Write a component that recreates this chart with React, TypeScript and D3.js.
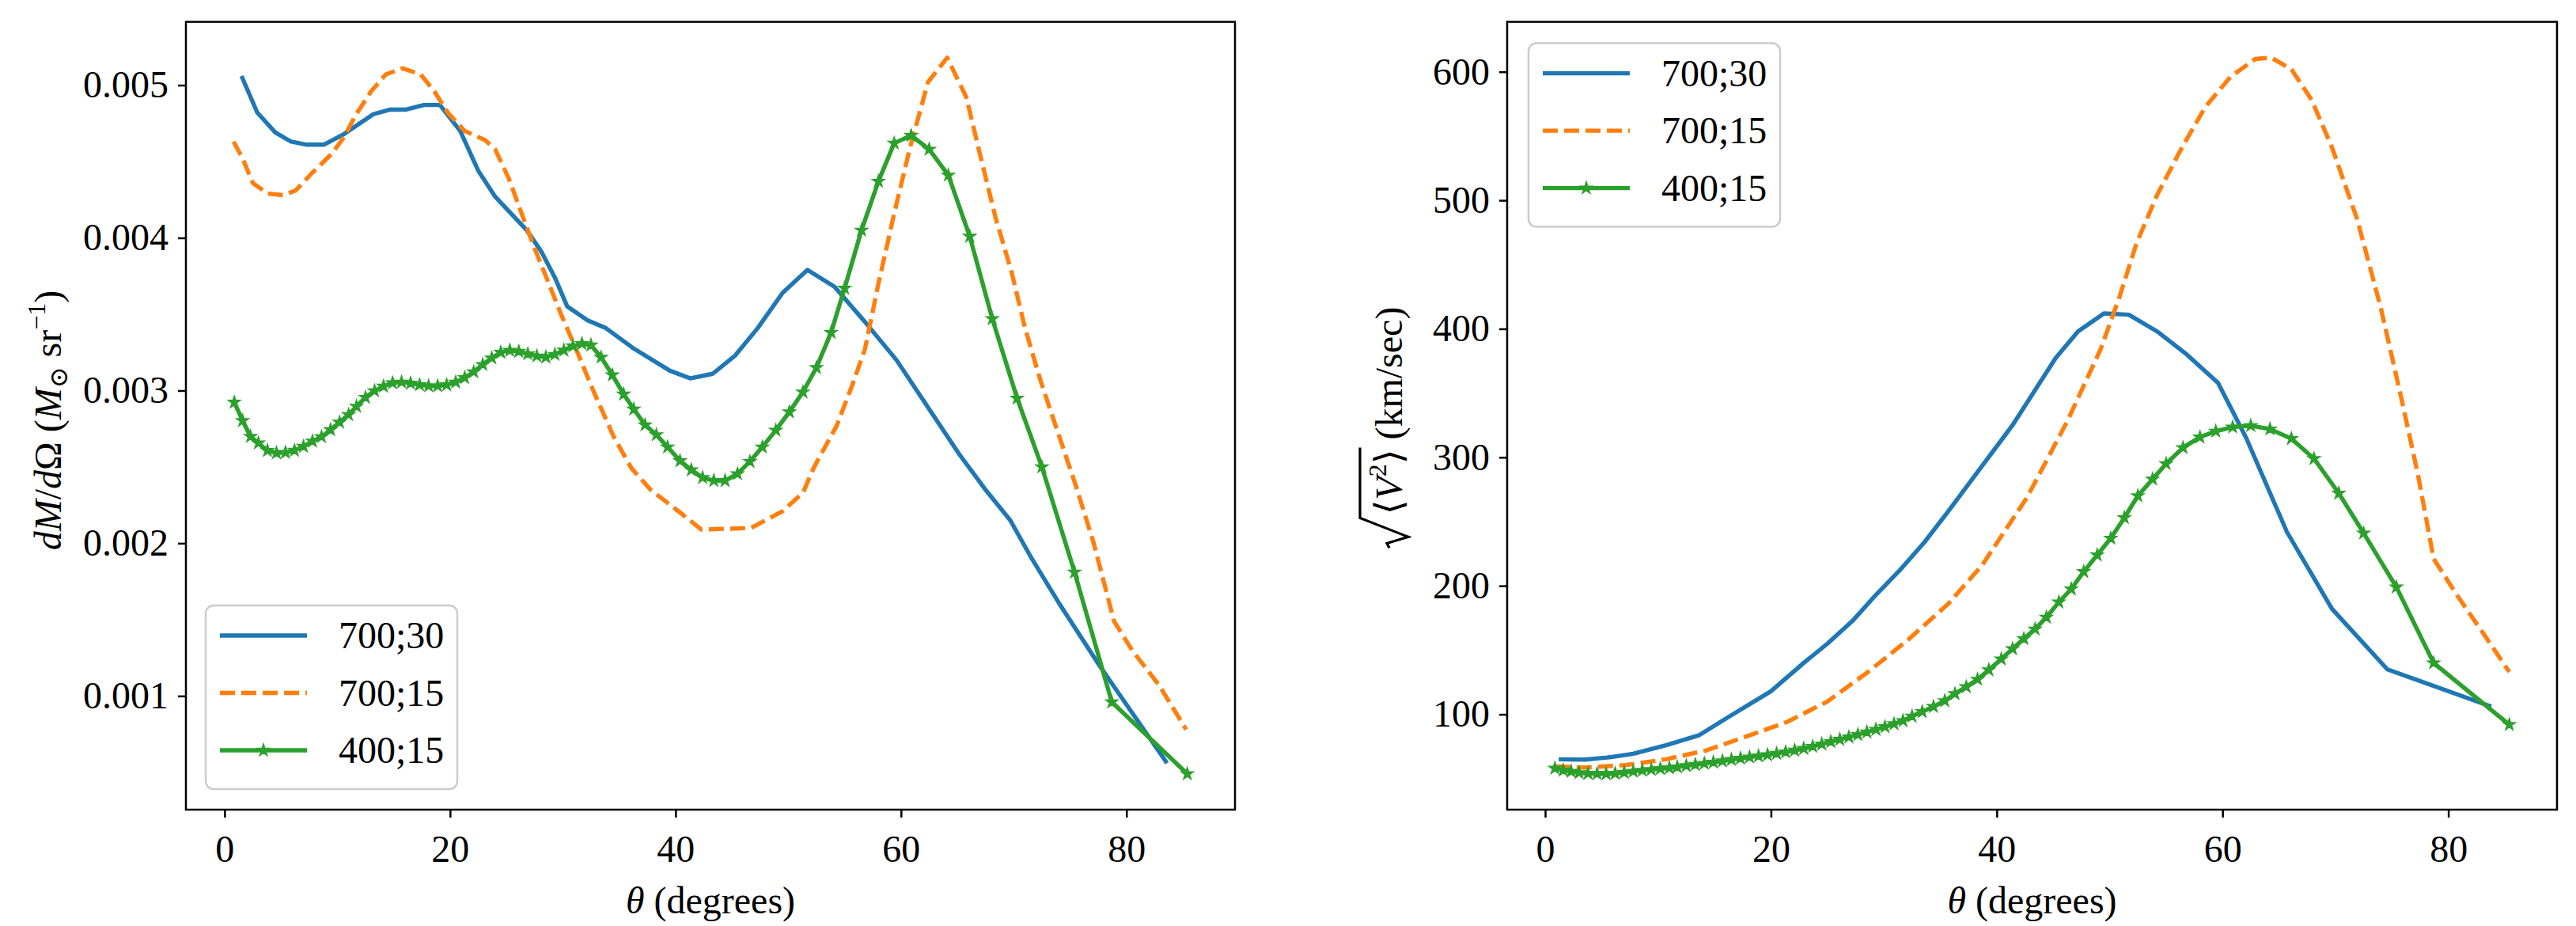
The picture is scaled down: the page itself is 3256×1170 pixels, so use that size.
import React, { useEffect, useRef } from 'react';
import * as d3 from 'd3';

const W = 3256;
const H = 1170;

const seriesLabels = ['700;30', '700;15', '400;15'];
const seriesColors = ['#1f77b4', '#ff7f0e', '#2ca02c'];

const xTicks = [0, 20, 40, 60, 80];
const massTicks = [0.001, 0.002, 0.003, 0.004, 0.005];
const velTicks = [100, 200, 300, 400, 500, 600];

// 700;30, dM/dOmega
const blueMassTheta = [1.5, 2.9, 4.5, 5.9, 7.3, 8.8, 10.6, 13.2, 14.7, 16.1, 17.7, 19.1, 20.9, 22.5, 24.0, 25.4, 26.8, 28.1, 29.3, 30.4, 32.2, 33.8, 36.2, 39.5, 41.3, 43.3, 45.3, 47.3, 49.5, 51.7, 54.1, 56.8, 59.6, 62.4, 65.2, 67.4, 69.7, 71.6, 74.0, 77.6, 80.5, 83.6];
const blueMass = [0.00506, 0.00482, 0.00469, 0.00463, 0.00461, 0.00461, 0.00468, 0.00481, 0.00484, 0.00484, 0.00487, 0.00487, 0.0047, 0.00444, 0.00427, 0.00416, 0.00405, 0.00391, 0.00374, 0.00355, 0.00346, 0.00341, 0.00328, 0.00313, 0.00308, 0.00311, 0.00323, 0.00341, 0.00364, 0.00379, 0.00368, 0.00345, 0.0032, 0.00289, 0.00258, 0.00236, 0.00215, 0.0019, 0.00161, 0.0012, 0.00089, 0.00056];

// 700;15, dM/dOmega
const orangeMassTheta = [0.8, 1.6, 2.5, 3.8, 5.2, 6.3, 7.7, 9.5, 10.6, 11.6, 13.0, 14.3, 15.8, 17.4, 18.6, 19.8, 21.3, 23.1, 24.0, 25.2, 26.3, 27.4, 28.6, 29.9, 31.3, 32.7, 34.5, 36.1, 37.8, 40.6, 42.3, 46.7, 49.5, 51.3, 52.3, 54.3, 55.7, 56.8, 58.0, 59.4, 60.8, 62.4, 64.1, 65.8, 67.0, 68.4, 69.8, 71.0, 72.4, 73.9, 75.5, 77.1, 78.9, 80.5, 82.9, 85.3];
const orangeMass = [0.00463, 0.00452, 0.00436, 0.00429, 0.00428, 0.00431, 0.00442, 0.00455, 0.00466, 0.0048, 0.00496, 0.00507, 0.00511, 0.00507, 0.00496, 0.00482, 0.0047, 0.00464, 0.00458, 0.00439, 0.00417, 0.00395, 0.00373, 0.00349, 0.00325, 0.003, 0.0027, 0.00249, 0.00235, 0.00219, 0.00209, 0.0021, 0.00221, 0.00233, 0.0025, 0.00277, 0.00304, 0.00327, 0.0037, 0.00416, 0.00459, 0.00502, 0.00518, 0.00492, 0.00455, 0.00413, 0.00378, 0.00341, 0.00306, 0.00273, 0.00238, 0.002, 0.00149, 0.0013, 0.00107, 0.00078];

// 400;15, shared angles for both panels (marker positions)
const greenTheta = [0.86, 1.6, 2.3, 3.0, 3.8, 4.6, 5.4, 6.2, 7.0, 7.8, 8.6, 9.4, 10.2, 11.0, 11.7, 12.5, 13.3, 14.1, 14.9, 15.7, 16.5, 17.3, 18.1, 18.9, 19.7, 20.5, 21.3, 22.1, 22.9, 23.7, 24.5, 25.3, 26.1, 26.9, 27.7, 28.5, 29.3, 30.1, 30.9, 31.7, 32.5, 33.4, 34.4, 35.4, 36.3, 37.3, 38.3, 39.3, 40.4, 41.4, 42.4, 43.4, 44.4, 45.5, 46.6, 47.7, 48.9, 50.1, 51.3, 52.5, 53.8, 55.0, 56.5, 58.0, 59.4, 60.9, 62.5, 64.2, 66.1, 68.1, 70.3, 72.5, 75.4, 78.7, 85.4];
const greenMass = [0.002923, 0.002803, 0.002699, 0.002656, 0.002607, 0.002592, 0.002594, 0.002608, 0.002634, 0.002668, 0.002697, 0.002743, 0.002792, 0.002842, 0.002896, 0.002955, 0.002998, 0.003028, 0.00305, 0.003055, 0.003048, 0.003037, 0.00303, 0.00303, 0.003037, 0.003055, 0.003084, 0.003122, 0.00317, 0.003213, 0.00325, 0.003263, 0.003256, 0.00324, 0.003226, 0.003219, 0.003236, 0.003264, 0.003291, 0.003307, 0.003298, 0.003218, 0.003102, 0.002976, 0.002878, 0.002775, 0.00271, 0.00263, 0.00254, 0.00248, 0.00243, 0.00241, 0.00241, 0.002455, 0.002535, 0.00263, 0.00274, 0.00286, 0.00299, 0.00315, 0.00338, 0.00367, 0.00405, 0.00437, 0.00462, 0.00467, 0.00458, 0.00441, 0.00401, 0.00347, 0.00295, 0.0025, 0.00181, 0.00096, 0.00049];
const greenVel = [58, 56.5, 55.5, 54.5, 54, 53.8, 53.7, 54, 54.8, 55.6, 56.4, 57, 57.7, 58.3, 59, 60, 60.9, 61.8, 62.7, 63.7, 64.8, 65.8, 66.7, 67.6, 68.5, 69.5, 70.7, 72, 73.4, 75, 76.8, 78.7, 80.5, 82.3, 84.2, 86.2, 88.2, 90.3, 92.6, 95, 98.5, 102, 106, 110.5, 116, 121.4, 127.2, 134.5, 143, 151, 158.8, 166.3, 175.5, 187.3, 197.5, 211, 224, 237, 253, 270, 283, 295, 307.5, 315.7, 320.3, 323.5, 324.6, 322, 314.5, 299, 272, 241, 199, 140, 92];

// 700;30, velocity
const blueVelTheta = [1.2, 3.5, 5.7, 7.8, 10.7, 13.6, 16.4, 20.0, 22.9, 25.0, 27.2, 29.3, 31.4, 33.6, 35.7, 38.0, 41.4, 45.2, 47.2, 49.5, 51.7, 54.2, 56.7, 59.6, 62.1, 65.7, 69.7, 74.6, 83.8];
const blueVel = [65, 64.8, 66.6, 69.3, 75.9, 83.6, 98.8, 118, 140, 155, 172.5, 193, 212, 234, 258, 285, 325, 377, 398, 412, 411, 398, 381, 358, 315, 242, 182, 135, 106];

// 700;15, velocity
const orangeVelTheta = [0.9, 3.5, 7.1, 10.7, 14.3, 17.8, 21.4, 25.0, 28.6, 32.1, 35.7, 38.7, 42.7, 46.3, 49.2, 50.9, 52.4, 54.2, 56.4, 58.5, 60.7, 62.9, 64.3, 66.1, 67.9, 69.7, 71.9, 74.0, 75.8, 77.3, 78.7, 80.9, 83.1, 85.4];
const orangeVel = [59.6, 58.6, 60.5, 65, 72, 82.7, 94, 110, 133, 157.7, 186, 216, 269, 329, 384, 425.6, 467, 504, 541, 573, 596, 610, 611, 602, 578, 541, 486, 417, 347.5, 287, 221, 191, 163, 133];

const FONT = "'Liberation Serif', 'DejaVu Serif', serif";
const FS = 48;
const STAR = 72;

interface Series {
  theta: number[];
  values: number[];
  color: string;
  label: string;
  dashed?: boolean;
  stars?: boolean;
}

interface Frame {
  x0: number;
  x1: number;
  y0: number;
  y1: number;
}

const padded = (vals: number[]): [number, number] => {
  const [lo, hi] = d3.extent(vals) as [number, number];
  const m = (hi - lo) * 0.05;
  return [lo - m, hi + m];
};

const starPath = (size: number) => d3.symbol(d3.symbolStar, size)()!;

function drawPanel(
  svg: d3.Selection<SVGSVGElement, unknown, null, undefined>,
  frame: Frame,
  series: Series[],
  yTicks: number[],
  yFmt: (v: number) => string,
  legendAt: [number, number]
) {
  const x = d3
    .scaleLinear()
    .domain(padded(series.flatMap((s) => s.theta)))
    .range([frame.x0, frame.x1]);
  const y = d3
    .scaleLinear()
    .domain(padded(series.flatMap((s) => s.values)))
    .range([frame.y1, frame.y0]);

  const g = svg.append('g');

  // Axes
  const xa = g
    .append('g')
    .attr('transform', `translate(0,${frame.y1})`)
    .call(d3.axisBottom(x).tickValues(xTicks).tickSize(10).tickPadding(22).tickFormat((d) => String(d)));
  const ya = g
    .append('g')
    .attr('transform', `translate(${frame.x0},0)`)
    .call(d3.axisLeft(y).tickValues(yTicks).tickSize(10).tickPadding(12).tickFormat((d) => yFmt(d as number)));
  [xa, ya].forEach((a) => {
    a.select('.domain').remove();
    a.selectAll('line').attr('stroke', '#000').attr('stroke-width', 2.5);
    a.selectAll('text').attr('font-family', FONT).attr('font-size', FS).attr('fill', '#000');
  });

  // Lines
  series.forEach((s) => {
    const idx = d3.range(s.theta.length);
    const line = d3
      .line<number>()
      .x((i) => x(s.theta[i]))
      .y((i) => y(s.values[i]));
    g.append('path')
      .attr('d', line(idx))
      .attr('fill', 'none')
      .attr('stroke', s.color)
      .attr('stroke-width', 5.4)
      .attr('stroke-linejoin', 'round')
      .attr('stroke-dasharray', s.dashed ? '19,8' : null);
    if (s.stars) {
      g.selectAll(null)
        .data(idx)
        .enter()
        .append('path')
        .attr('d', starPath(STAR))
        .attr('transform', (i) => `translate(${x(s.theta[i])},${y(s.values[i])})`)
        .attr('fill', s.color)
        .attr('stroke', s.color)
        .attr('stroke-width', 1.5);
    }
  });

  // Frame
  g.append('rect')
    .attr('x', frame.x0)
    .attr('y', frame.y0)
    .attr('width', frame.x1 - frame.x0)
    .attr('height', frame.y1 - frame.y0)
    .attr('fill', 'none')
    .attr('stroke', '#000')
    .attr('stroke-width', 2.5);

  // Legend
  const lg = g.append('g').attr('transform', `translate(${legendAt[0]},${legendAt[1]})`);
  lg.append('rect')
    .attr('width', 318)
    .attr('height', 232)
    .attr('rx', 10)
    .attr('fill', '#fff')
    .attr('fill-opacity', 0.8)
    .attr('stroke', '#cccccc')
    .attr('stroke-width', 2.5);
  series.forEach((s, i) => {
    const cy = 38 + i * 72.5;
    lg.append('line')
      .attr('x1', 18)
      .attr('x2', 128)
      .attr('y1', cy)
      .attr('y2', cy)
      .attr('stroke', s.color)
      .attr('stroke-width', 5.4)
      .attr('stroke-dasharray', s.dashed ? '19,8' : null);
    if (s.stars) {
      lg.append('path')
        .attr('d', starPath(STAR))
        .attr('transform', `translate(73,${cy})`)
        .attr('fill', s.color)
        .attr('stroke', s.color)
        .attr('stroke-width', 1.5);
    }
    lg.append('text')
      .attr('x', 168)
      .attr('y', cy + 16)
      .attr('font-family', FONT)
      .attr('font-size', FS)
      .text(s.label);
  });

  // x label
  const xl = g
    .append('text')
    .attr('x', (frame.x0 + frame.x1) / 2)
    .attr('y', 1154)
    .attr('text-anchor', 'middle')
    .attr('font-family', FONT)
    .attr('font-size', FS);
  xl.append('tspan').attr('font-style', 'italic').text('θ');
  xl.append('tspan').text(' (degrees)');
}

const App: React.FC = () => {
  const ref = useRef<SVGSVGElement | null>(null);

  useEffect(() => {
    const svg = d3.select(ref.current as SVGSVGElement);
    svg.selectAll('*').remove();

    const left: Frame = { x0: 235, x1: 1561, y0: 27.6, y1: 1023 };
    const right: Frame = { x0: 1905, x1: 3232, y0: 27.6, y1: 1023 };

    const massSeries: Series[] = [
      { theta: blueMassTheta, values: blueMass, color: seriesColors[0], label: seriesLabels[0] },
      { theta: orangeMassTheta, values: orangeMass, color: seriesColors[1], label: seriesLabels[1], dashed: true },
      { theta: greenTheta, values: greenMass, color: seriesColors[2], label: seriesLabels[2], stars: true },
    ];
    const velSeries: Series[] = [
      { theta: blueVelTheta, values: blueVel, color: seriesColors[0], label: seriesLabels[0] },
      { theta: orangeVelTheta, values: orangeVel, color: seriesColors[1], label: seriesLabels[1], dashed: true },
      { theta: greenTheta, values: greenVel, color: seriesColors[2], label: seriesLabels[2], stars: true },
    ];

    drawPanel(svg, left, massSeries, massTicks, d3.format('.3f'), [left.x0 + 25, left.y1 - 26 - 232]);
    drawPanel(svg, right, velSeries, velTicks, d3.format('d'), [right.x0 + 27, right.y0 + 27]);

    // Left y label: dM/dΩ (M⊙ sr^-1)
    const yl = svg
      .append('text')
      .attr('transform', 'translate(77,531) rotate(-90)')
      .attr('text-anchor', 'middle')
      .attr('font-family', FONT)
      .attr('font-size', FS);
    yl.append('tspan').attr('font-style', 'italic').text('dM');
    yl.append('tspan').text('/');
    yl.append('tspan').attr('font-style', 'italic').text('d');
    yl.append('tspan').text('Ω (');
    yl.append('tspan').attr('font-style', 'italic').text('M');
    yl.append('tspan').attr('font-size', 32).attr('dy', 8).text('⊙');
    yl.append('tspan').attr('dy', -8).text(' sr');
    yl.append('tspan').attr('font-size', 32).attr('dy', -20).text('−1');
    yl.append('tspan').attr('dy', 20).text(')');

    // Right y label: sqrt(<V^2>) (km/sec)
    const rl = svg.append('g').attr('transform', 'translate(1772,540) rotate(-90)');
    const inner = rl.append('text').attr('font-family', FONT).attr('font-size', FS);
    inner.append('tspan').text('⟨');
    inner.append('tspan').attr('font-style', 'italic').text('V');
    inner.append('tspan').attr('font-size', 32).attr('dy', -20).text('2');
    inner.append('tspan').attr('dy', 20).text('⟩');
    const unit = rl.append('text').attr('font-family', FONT).attr('font-size', FS).text('\u00a0(km/sec)');
    const w1 = (inner.node() as SVGTextElement).getComputedTextLength();
    const w2 = (unit.node() as SVGTextElement).getComputedTextLength();
    const rad = 42;
    const u0 = -(rad + w1 + w2) / 2;
    rl.append('path')
      .attr(
        'd',
        `M${u0},-16 L${u0 + 6},-19 L${u0 + 14},8 L${u0 + 38},-53 L${u0 + rad + w1 + 2},-53`
      )
      .attr('fill', 'none')
      .attr('stroke', '#000')
      .attr('stroke-width', 3.2)
      .attr('stroke-linejoin', 'miter');
    inner.attr('x', u0 + rad);
    unit.attr('x', u0 + rad + w1);
  }, []);

  return (
    <svg
      ref={ref}
      width={W}
      height={H}
      style={{ position: 'absolute', left: 0, top: 0, background: '#fff' }}
    />
  );
};

export default App;
